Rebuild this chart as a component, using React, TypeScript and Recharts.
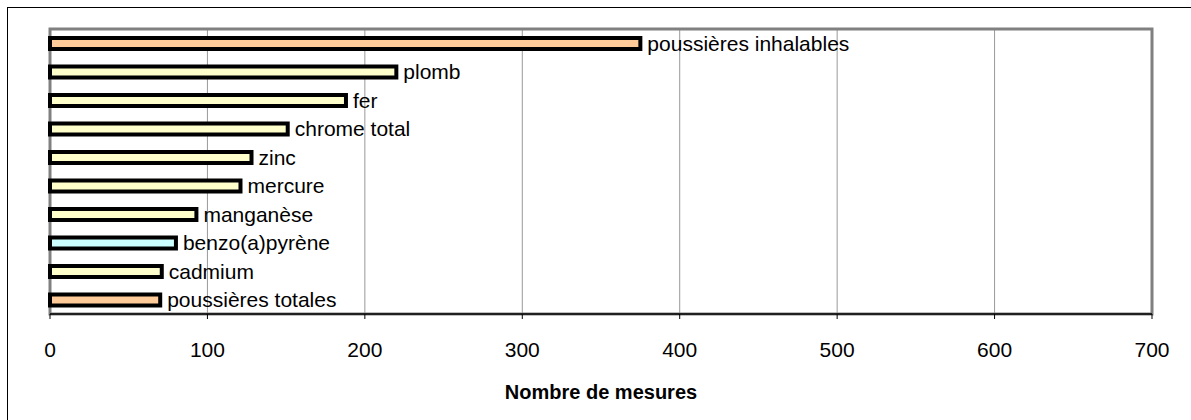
import { BarChart, Bar, XAxis, YAxis, CartesianGrid, Cell, LabelList, ReferenceArea } from 'recharts';

const substances = [
  'poussières inhalables',
  'plomb',
  'fer',
  'chrome total',
  'zinc',
  'mercure',
  'manganèse',
  'benzo(a)pyrène',
  'cadmium',
  'poussières totales',
];
const mesures = [375, 220, 188, 151, 128, 121, 93, 80, 71, 70];
const groupes = ['poussieres', 'metal', 'metal', 'metal', 'metal', 'metal', 'metal', 'hap', 'metal', 'poussieres'];
const xTicks = [0, 100, 200, 300, 400, 500, 600, 700];
const bandTicks = [0, 1, 2, 3, 4, 5, 6, 7, 8, 9, 10];

const FILL: Record<string, string> = {
  poussieres: '#FFCC99',
  metal: '#FFFFCC',
  hap: '#CCFFFF',
};

const data = substances.map((name, i) => ({ name, value: mesures[i], groupe: groupes[i] }));

const FONT = 'Arial, "Liberation Sans", sans-serif';

export default function App() {
  return (
    <div style={{ position: 'fixed', left: 0, top: 0, width: 1191, height: 420, overflow: 'hidden', background: '#fff' }}>
      {/* outer frame, runs past the right and bottom edges */}
      <div
        style={{
          position: 'absolute',
          left: 7,
          top: 7,
          width: 1300,
          height: 500,
          border: '1.5px solid #000',
        }}
      />
      <div style={{ position: 'absolute', left: 0, top: 0 }}>
        <BarChart
          width={1191}
          height={420}
          data={data}
          layout="vertical"
          margin={{ top: 29, right: 39, bottom: 36, left: 50 }}
          barCategoryGap={0}
        >
          <CartesianGrid horizontal={false} stroke="#999999" strokeWidth={1} />
          <XAxis
            type="number"
            domain={[0, 700]}
            ticks={xTicks}
            height={70}
            axisLine={{ stroke: '#000', strokeWidth: 1.5 }}
            tickLine={{ stroke: '#000' }}
            tickSize={5}
            tickMargin={23}
            tick={{ fill: '#000', fontSize: 21, fontFamily: FONT }}
            label={(props: any) => {
              const vb = props.viewBox || {};
              return (
                <text
                  x={vb.x + vb.width / 2}
                  y={vb.y + 85}
                  textAnchor="middle"
                  fontSize={20}
                  fontWeight="bold"
                  fontFamily={FONT}
                  fill="#000"
                >
                  Nombre de mesures
                </text>
              );
            }}
          />
          <YAxis yAxisId="cat" type="category" dataKey="name" hide />
          <YAxis
            yAxisId="band"
            type="number"
            domain={[0, 10]}
            ticks={bandTicks}
            width={0}
            axisLine={{ stroke: '#000', strokeWidth: 1.5 }}
            tickLine={{ stroke: '#000' }}
            tickSize={6}
            tickFormatter={() => ''}
          />
          <ReferenceArea
            yAxisId="band"
            x1={0}
            x2={700}
            fill="none"
            stroke="#808080"
            strokeWidth={3}
          />
          <Bar
            yAxisId="cat"
            dataKey="value"
            barSize={11}
            stroke="#000"
            strokeWidth={4}
            isAnimationActive={false}
          >
            {data.map((d, i) => (
              <Cell key={`c-${i}`} fill={FILL[d.groupe]} />
            ))}
            <LabelList
              dataKey="name"
              position="right"
              offset={7}
              style={{ fill: '#000', fontSize: 21, fontFamily: FONT }}
            />
          </Bar>
        </BarChart>
      </div>
    </div>
  );
}
